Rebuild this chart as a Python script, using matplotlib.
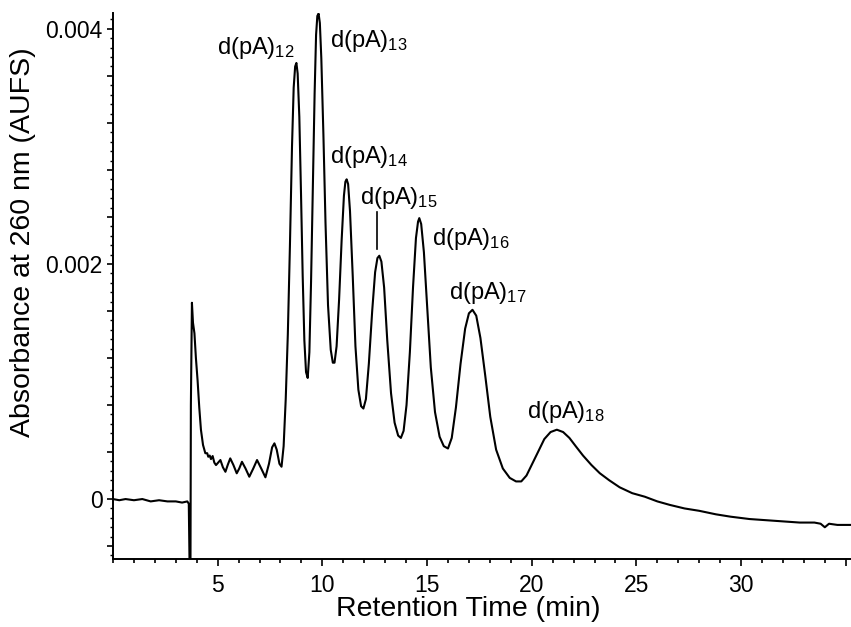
import numpy as np
import matplotlib
matplotlib.use('Agg')
import matplotlib.pyplot as plt
import matplotlib.ticker as ticker

plt.rcParams['font.family'] = ['Liberation Sans', 'DejaVu Sans']
plt.rcParams['mathtext.fontset'] = 'custom'
plt.rcParams['mathtext.rm'] = 'Liberation Sans'
plt.rcParams['mathtext.it'] = 'Liberation Sans'

# retention time (min)
time_min = [0.0, 0.3, 0.6, 1.0, 1.4, 1.8, 2.2, 2.6, 3.0, 3.3, 3.55, 3.62,
            3.66, 3.70, 3.72, 3.77, 3.82, 3.89, 3.96, 4.04, 4.12, 4.20, 4.30,
            4.41, 4.50, 4.55, 4.62, 4.68, 4.76, 4.84, 4.92, 5.02, 5.13, 5.25,
            5.37, 5.48, 5.60, 5.75, 5.91, 6.03, 6.16, 6.33, 6.51, 6.70, 6.88,
            7.08, 7.28, 7.45, 7.60, 7.71, 7.82, 7.95, 8.05, 8.15, 8.25, 8.35,
            8.45, 8.55, 8.63, 8.70, 8.76, 8.82, 8.90, 8.98, 9.06, 9.14, 9.22,
            9.30, 9.38, 9.46, 9.55, 9.63, 9.70, 9.76, 9.82, 9.88, 9.95, 10.05,
            10.15, 10.27, 10.40, 10.50, 10.58, 10.68, 10.80, 10.92, 11.03,
            11.10, 11.16, 11.23, 11.32, 11.45, 11.58, 11.72, 11.85, 11.96,
            12.08, 12.22, 12.38, 12.52, 12.63, 12.72, 12.82, 12.95, 13.10,
            13.28, 13.45, 13.62, 13.75, 13.88, 14.02, 14.18, 14.33, 14.47,
            14.57, 14.63, 14.72, 14.85, 15.00, 15.18, 15.38, 15.60, 15.80,
            16.00, 16.18, 16.38, 16.60, 16.82, 17.00, 17.17, 17.35, 17.55,
            17.78, 18.02, 18.30, 18.62, 18.95, 19.25, 19.50, 19.75, 20.00,
            20.30, 20.60, 20.90, 21.20, 21.50, 21.80, 22.10, 22.45, 22.85,
            23.25, 23.70, 24.20, 24.80, 25.40, 26.0, 26.6, 27.3, 28.0, 28.8,
            29.5, 30.4, 31.2, 32.0, 32.8, 33.5, 33.8, 34.0, 34.2, 34.6, 35.25]
# absorbance (AUFS)
absorbance = [0.0, -0.00001, 0.0, -0.00001, 0.0, -0.00002, -0.00001, -0.00002,
              -0.00002, -0.00003, -0.00002, -0.00004, -0.0006, -0.0006, 0.0008,
              0.00167, 0.00150, 0.00141, 0.00120, 0.00101, 0.00078, 0.00059,
              0.00046, 0.00039, 0.00039, 0.00036, 0.00037, 0.00034, 0.000366,
              0.00031, 0.000289, 0.00031, 0.000332, 0.00027, 0.000232, 0.00029,
              0.000346, 0.00029, 0.000219, 0.00026, 0.000317, 0.00026, 0.00019,
              0.00026, 0.000332, 0.00026, 0.000185, 0.00030, 0.00044, 0.000474,
              0.00042, 0.00030, 0.000275, 0.00045, 0.00085, 0.00140, 0.00215,
              0.00300, 0.00350, 0.00368, 0.00371, 0.00362, 0.00325, 0.00260,
              0.00190, 0.00135, 0.00108, 0.00103, 0.00125, 0.00185, 0.00270,
              0.00345, 0.00395, 0.00411, 0.00413, 0.00405, 0.00375, 0.00310,
              0.00235, 0.00165, 0.00127, 0.00116, 0.00116, 0.00130, 0.00170,
              0.00220, 0.00258, 0.00270, 0.00272, 0.00268, 0.00245, 0.00190,
              0.00130, 0.00093, 0.00079, 0.00077, 0.00085, 0.00115, 0.00160,
              0.00193, 0.00205, 0.00207, 0.00202, 0.00180, 0.00135, 0.00090,
              0.00065, 0.00054, 0.00052, 0.00058, 0.00080, 0.00125, 0.00180,
              0.00222, 0.00236, 0.00239, 0.00234, 0.00210, 0.00165, 0.00112,
              0.00074, 0.00053, 0.00045, 0.00043, 0.00052, 0.00078, 0.00115,
              0.00145, 0.00158, 0.00161, 0.00156, 0.00137, 0.00105, 0.00070,
              0.00042, 0.00026, 0.00018, 0.00015, 0.00015, 0.00020, 0.00029,
              0.00040, 0.00051, 0.00057, 0.00059, 0.00057, 0.00052, 0.00045,
              0.00037, 0.00029, 0.00022, 0.00016, 0.00010, 0.00005, 0.00002,
              -0.00002, -0.00005, -0.00008, -0.00010, -0.00013, -0.00015,
              -0.00017, -0.00018, -0.00019, -0.00020, -0.00020, -0.00021,
              -0.00024, -0.00021, -0.00022, -0.00022]

# peak labels: subscript, x, y (baseline)
peak_names = ['12', '13', '14', '15', '16', '17', '18']
label_x = [4.98, 10.37, 10.37, 11.80, 15.24, 16.07, 19.76]
label_y = [0.00379, 0.00385, 0.00286, 0.00251, 0.00216, 0.00170, 0.00069]
marker15_x = 12.61
marker15_y = [0.00244, 0.00213]

fig = plt.figure(figsize=(8.51, 6.27), dpi=100)
ax = fig.add_axes([113/851, 1 - 559/627, (851 - 113)/851, (559 - 13)/627])

ax.plot(time_min, absorbance, color='black', lw=1.5, solid_joinstyle='round')

for name, x, y in zip(peak_names, label_x, label_y):
    ax.text(x, y, r'd(pA)$_{\mathrm{' + name + '}}$', fontsize=17,
            ha='left', va='baseline')
ax.plot([marker15_x, marker15_x], marker15_y, color='black', lw=1.2)

ax.set_xlim(0, 35.25)
ax.set_ylim(-0.00051, 0.004135)

ax.xaxis.set_major_locator(ticker.FixedLocator([5, 10, 15, 20, 25, 30, 35]))
ax.xaxis.set_major_formatter(ticker.FuncFormatter(
    lambda v, p: '' if v > 31 else '%d' % v))
ax.xaxis.set_minor_locator(ticker.MultipleLocator(1))

ax.yaxis.set_major_locator(ticker.MultipleLocator(0.0004))
ax.yaxis.set_major_formatter(ticker.FuncFormatter(
    lambda v, p: {0: '0', 5: '0.002', 10: '0.004'}.get(int(round(v / 0.0004)), '')))
ax.yaxis.set_minor_locator(ticker.MultipleLocator(0.00008))

ax.tick_params(axis='x', which='major', length=5, width=1.2, labelsize=16.5, pad=6)
ax.tick_params(axis='x', which='minor', length=3, width=1.2)
ax.tick_params(axis='y', which='major', length=4.5, width=1.2, labelsize=16.5, pad=3)
ax.tick_params(axis='y', which='minor', length=2.2, width=1.0)

for s in ['top', 'right']:
    ax.spines[s].set_visible(False)
for s in ['left', 'bottom']:
    ax.spines[s].set_linewidth(1.4)

ax.set_xlabel('Retention Time (min)', fontsize=20.5)
ax.xaxis.set_label_coords(0.482, -0.068)
ax.set_ylabel('Absorbance at 260 nm (AUFS)', fontsize=20.5)
ax.yaxis.set_label_coords(-0.104, 0.58)

fig.savefig('out.png', dpi=100)
